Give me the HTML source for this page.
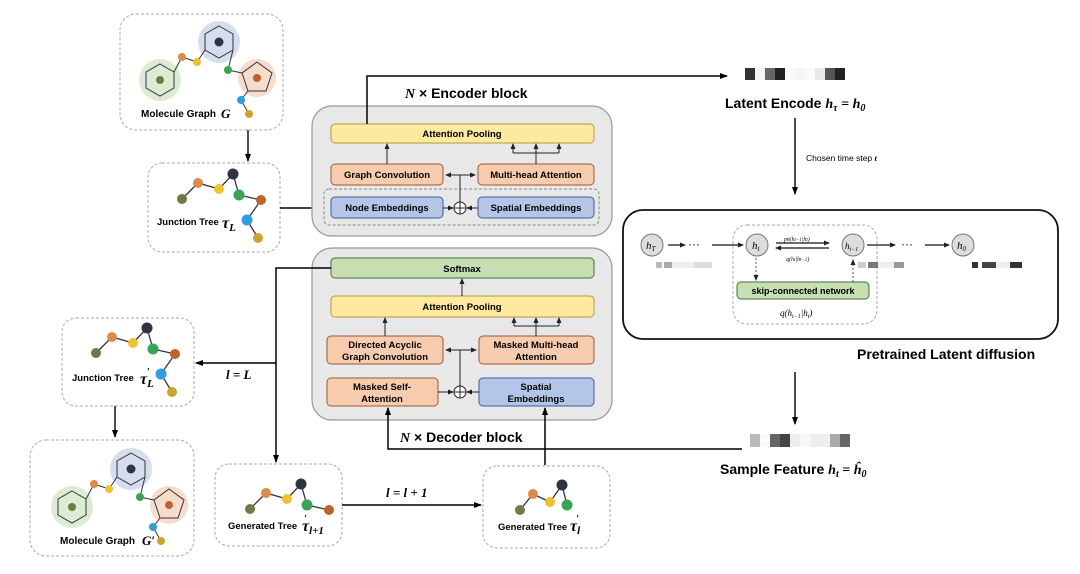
<!DOCTYPE html>
<html><head><meta charset="utf-8"><style>
html,body{margin:0;padding:0;background:#fff;}
svg{display:block;font-family:"Liberation Sans",sans-serif;}
.b{font-weight:bold;}
.it{font-family:"Liberation Serif",serif;font-style:italic;font-weight:bold;}
</style></head><body>
<svg width="1080" height="574" viewBox="0 0 1080 574" xmlns="http://www.w3.org/2000/svg">
<defs>
<marker id="a" markerWidth="8" markerHeight="8" refX="7" refY="4" orient="auto" markerUnits="userSpaceOnUse"><path d="M0,1 L8,4 L0,7 z" fill="#000"/></marker>
<marker id="s" markerWidth="6" markerHeight="6" refX="5" refY="3" orient="auto" markerUnits="userSpaceOnUse"><path d="M0,0.5 L6,3 L0,5.5 z" fill="#222"/></marker>
<marker id="s2" markerWidth="6" markerHeight="6" refX="1" refY="3" orient="auto" markerUnits="userSpaceOnUse"><path d="M6,0.5 L0,3 L6,5.5 z" fill="#222"/></marker>
<g id="tree6">
<path d="M0,0 L16,-16 L37,-10 L51,-25 L57,-4 L79,1" stroke="#333" stroke-width="1.3" fill="none"/>
<circle cx="0" cy="0" r="5" fill="#6b7d45"/><circle cx="16" cy="-16" r="5" fill="#e08a4a"/><circle cx="37" cy="-10" r="5" fill="#f0c232"/><circle cx="51" cy="-25" r="5.5" fill="#2e3440"/><circle cx="57" cy="-4" r="5.5" fill="#3aa356"/><circle cx="79" cy="1" r="5" fill="#c0622e"/>
</g>
<g id="tree8">
<path d="M79,1 L65,21 L76,39" stroke="#333" stroke-width="1.3" fill="none"/>
<use href="#tree6"/>
<circle cx="65" cy="21" r="5.5" fill="#2f9ee0"/><circle cx="76" cy="39" r="5" fill="#c9a532"/>
</g>
<g id="mol">
<circle cx="160" cy="80" r="21" fill="#dcebd3"/><circle cx="219" cy="42" r="21" fill="#d6ddee"/><circle cx="257" cy="78" r="19" fill="#f6dccd"/>
<polygon points="160,64 174,72 174,88 160,96 146,88 146,72" fill="none" stroke="#333" stroke-width="1"/>
<polygon points="219,26 233,34 233,50 219,58 205,50 205,34" fill="none" stroke="#333" stroke-width="1"/>
<polygon points="257,62 272,73 266,91 248,91 242,73" fill="none" stroke="#333" stroke-width="1"/>
<path d="M174,72 L182,57 L197,62 L205,50 M233,50 L228,70 L242,73 M248,91 L241,100 L249,114" stroke="#333" stroke-width="1" fill="none"/>
<circle cx="160" cy="80" r="4" fill="#6b7d45"/><circle cx="219" cy="42" r="4.5" fill="#2e3440"/><circle cx="257" cy="78" r="4" fill="#c0622e"/>
<circle cx="182" cy="57" r="4" fill="#e08a4a"/><circle cx="197" cy="62" r="4" fill="#f0c232"/><circle cx="228" cy="70" r="4" fill="#3aa356"/><circle cx="241" cy="100" r="4" fill="#2f9ee0"/><circle cx="249" cy="114" r="4" fill="#c9a532"/>
</g>
</defs>

<!-- left boxes -->
<rect x="120" y="14" width="163" height="116" rx="16" fill="#fff" stroke="#aaa" stroke-dasharray="3,2"/>
<use href="#mol"/>
<text x="141" y="117" font-size="10" class="b">Molecule Graph</text><text x="221" y="118" font-size="13" class="it">G</text>
<line x1="248" y1="130" x2="248" y2="161" stroke="#000" stroke-width="1.4" marker-end="url(#a)"/>
<rect x="148" y="163" width="132" height="89" rx="14" fill="#fff" stroke="#aaa" stroke-dasharray="3,2"/>
<use href="#tree8" x="182" y="199"/>
<text x="157" y="225" font-size="9.5" class="b">Junction Tree</text><text x="222" y="228" font-size="16" class="it">τ<tspan font-size="11" dy="3">L</tspan></text>
<line x1="280" y1="208" x2="322" y2="208" stroke="#000" stroke-width="1.4" marker-end="url(#a)"/>

<!-- encoder -->
<rect x="312" y="106" width="300" height="130" rx="20" fill="#e8e8e8" stroke="#999" stroke-width="1.2"/>
<rect x="331" y="124" width="263" height="19" rx="4" fill="#fde9a0" stroke="#b8963e"/>
<text x="462" y="137" font-size="9.5" class="b" text-anchor="middle">Attention Pooling</text>
<rect x="331" y="164" width="112" height="21" rx="4" fill="#f7cbad" stroke="#9a5a33"/>
<text x="387" y="178" font-size="9.5" class="b" text-anchor="middle">Graph Convolution</text>
<rect x="478" y="164" width="116" height="21" rx="4" fill="#f7cbad" stroke="#9a5a33"/>
<text x="536" y="178" font-size="9.5" class="b" text-anchor="middle">Multi-head Attention</text>
<rect x="324" y="189" width="275" height="36" rx="5" fill="none" stroke="#888" stroke-dasharray="3,2"/>
<rect x="331" y="197" width="112" height="21" rx="4" fill="#b4c6e7" stroke="#3a5a99"/>
<text x="387" y="211" font-size="9.5" class="b" text-anchor="middle">Node Embeddings</text>
<rect x="478" y="197" width="116" height="21" rx="4" fill="#b4c6e7" stroke="#3a5a99"/>
<text x="536" y="211" font-size="9.5" class="b" text-anchor="middle">Spatial Embeddings</text>
<circle cx="460" cy="208" r="6" fill="#fff" stroke="#222"/><path d="M454,208 H466 M460,202 V214" stroke="#222"/>
<line x1="443" y1="208" x2="453" y2="208" stroke="#222" marker-end="url(#s)"/>
<line x1="478" y1="208" x2="467" y2="208" stroke="#222" marker-end="url(#s)"/>
<line x1="460" y1="202" x2="460" y2="175" stroke="#222"/>
<line x1="446" y1="175" x2="475" y2="175" stroke="#222" marker-start="url(#s2)" marker-end="url(#s)"/>
<line x1="387" y1="164" x2="387" y2="144" stroke="#222" marker-end="url(#s)"/>
<path d="M536,164 V153 M513,153 H559" stroke="#222" fill="none"/>
<line x1="513" y1="153" x2="513" y2="144" stroke="#222" marker-end="url(#s)"/><line x1="536" y1="153" x2="536" y2="144" stroke="#222" marker-end="url(#s)"/><line x1="559" y1="153" x2="559" y2="144" stroke="#222" marker-end="url(#s)"/>
<path d="M367,124 V76 H727" stroke="#000" stroke-width="1.5" fill="none" marker-end="url(#a)"/>
<text x="405" y="98" font-size="14" class="b"><tspan class="it">N</tspan> × Encoder block</text>

<!-- latent -->
<g transform="translate(745,68)">
<rect x="0" width="10" height="12" fill="#333"/><rect x="10" width="10" height="12" fill="#f4f4f4"/><rect x="20" width="10" height="12" fill="#666"/><rect x="30" width="10" height="12" fill="#222"/><rect x="40" width="10" height="12" fill="#fafafa"/><rect x="50" width="10" height="12" fill="#f6f6f6"/><rect x="60" width="10" height="12" fill="#fafafa"/><rect x="70" width="10" height="12" fill="#e8e8e8"/><rect x="80" width="10" height="12" fill="#555"/><rect x="90" width="10" height="12" fill="#222"/>
</g>
<text x="725" y="108" font-size="14" class="b">Latent Encode <tspan class="it">h<tspan font-size="10" dy="3">τ</tspan><tspan dy="-3"> = h</tspan><tspan font-size="10" dy="3">0</tspan></tspan></text>
<line x1="795" y1="118" x2="795" y2="194" stroke="#000" stroke-width="1.4" marker-end="url(#a)"/>
<text x="806" y="161" font-size="8.5">Chosen time step <tspan class="it">t</tspan></text>

<!-- diffusion -->
<rect x="623" y="210" width="435" height="129" rx="20" fill="#fff" stroke="#111" stroke-width="1.8"/>
<rect x="733" y="225" width="144" height="99" rx="14" fill="none" stroke="#aaa" stroke-dasharray="3,2"/>
<g font-family="Liberation Serif,serif" font-style="italic" font-size="11">
<circle cx="652" cy="245" r="11" fill="#ddd" stroke="#777"/><text x="646" y="249">h<tspan font-size="7" dy="2">T</tspan></text>
<circle cx="757" cy="245" r="11" fill="#ddd" stroke="#777"/><text x="752" y="249">h<tspan font-size="7" dy="2">t</tspan></text>
<circle cx="853" cy="245" r="11" fill="#ddd" stroke="#777"/><text x="845" y="249" font-size="9">h<tspan font-size="6" dy="2">t−1</tspan></text>
<circle cx="963" cy="245" r="11" fill="#ddd" stroke="#777"/><text x="957" y="249">h<tspan font-size="7" dy="2">0</tspan></text>
<text x="784" y="241" font-size="6">p<tspan font-size="5">θ</tspan>(h<tspan font-size="5">t−1</tspan>|h<tspan font-size="5">t</tspan>)</text>
<text x="786" y="261" font-size="6">q(h<tspan font-size="5">t</tspan>|h<tspan font-size="5">t−1</tspan>)</text>
<text x="780" y="316" font-size="9">q(h<tspan font-size="6" dy="2">t−1</tspan><tspan dy="-2">|h</tspan><tspan font-size="6" dy="2">t</tspan><tspan dy="-2">)</tspan></text>
</g>
<line x1="668" y1="245" x2="685" y2="245" stroke="#111" stroke-width="1.2" marker-end="url(#s)"/>
<text x="688" y="248" font-size="12">···</text>
<line x1="712" y1="245" x2="743" y2="245" stroke="#111" stroke-width="1.2" marker-end="url(#s)"/>
<line x1="776" y1="243" x2="829" y2="243" stroke="#111" stroke-width="1.2" marker-end="url(#s)"/>
<line x1="829" y1="248" x2="776" y2="248" stroke="#111" stroke-width="1.2" marker-end="url(#s)"/>
<line x1="867" y1="245" x2="895" y2="245" stroke="#111" stroke-width="1.2" marker-end="url(#s)"/>
<text x="901" y="248" font-size="12">···</text>
<line x1="925" y1="245" x2="949" y2="245" stroke="#111" stroke-width="1.2" marker-end="url(#s)"/>
<g>
<rect x="656" y="262" width="6" height="6" fill="#bbb"/><rect x="664" y="262" width="8" height="6" fill="#aaa"/><rect x="672" y="262" width="22" height="6" fill="#eee"/><rect x="694" y="262" width="18" height="6" fill="#ddd"/>
<rect x="858" y="262" width="8" height="6" fill="#ccc"/><rect x="868" y="262" width="10" height="6" fill="#777"/><rect x="878" y="262" width="16" height="6" fill="#eee"/><rect x="894" y="262" width="10" height="6" fill="#999"/>
<rect x="972" y="262" width="6" height="6" fill="#333"/><rect x="982" y="262" width="14" height="6" fill="#444"/><rect x="996" y="262" width="14" height="6" fill="#eee"/><rect x="1010" y="262" width="12" height="6" fill="#333"/>
</g>
<line x1="756" y1="258" x2="756" y2="280" stroke="#555" stroke-dasharray="2,2" marker-end="url(#s)"/>
<line x1="853" y1="282" x2="853" y2="260" stroke="#555" stroke-dasharray="2,2" marker-end="url(#s)"/>
<rect x="737" y="282" width="132" height="17" rx="4" fill="#c6e0b4" stroke="#4a6a3a"/>
<text x="803" y="294" font-size="9" class="b" text-anchor="middle">skip-connected network</text>
<text x="857" y="359" font-size="14" class="b">Pretrained Latent diffusion</text>
<line x1="795" y1="372" x2="795" y2="424" stroke="#000" stroke-width="1.4" marker-end="url(#a)"/>

<!-- sample -->
<g transform="translate(750,434)">
<rect x="0" width="10" height="13" fill="#bbb"/><rect x="10" width="10" height="13" fill="#fafafa"/><rect x="20" width="10" height="13" fill="#666"/><rect x="30" width="10" height="13" fill="#444"/><rect x="40" width="10" height="13" fill="#eee"/><rect x="50" width="10" height="13" fill="#f8f8f8"/><rect x="60" width="10" height="13" fill="#eee"/><rect x="70" width="10" height="13" fill="#eee"/><rect x="80" width="10" height="13" fill="#aaa"/><rect x="90" width="10" height="13" fill="#666"/>
</g>
<text x="720" y="474" font-size="14" class="b">Sample Feature <tspan class="it">h<tspan font-size="10" dy="3">t</tspan><tspan dy="-3"> = ĥ</tspan><tspan font-size="10" dy="3">0</tspan></tspan></text>

<!-- decoder -->
<rect x="312" y="248" width="300" height="172" rx="20" fill="#e8e8e8" stroke="#999" stroke-width="1.2"/>
<rect x="331" y="258" width="263" height="20" rx="4" fill="#c6e0b4" stroke="#4a6a3a"/>
<text x="462" y="272" font-size="9.5" class="b" text-anchor="middle">Softmax</text>
<rect x="331" y="296" width="263" height="21" rx="4" fill="#fde9a0" stroke="#b8963e"/>
<text x="462" y="310" font-size="9.5" class="b" text-anchor="middle">Attention Pooling</text>
<line x1="462" y1="296" x2="462" y2="279" stroke="#222" marker-end="url(#s)"/>
<rect x="327" y="336" width="116" height="28" rx="4" fill="#f7cbad" stroke="#9a5a33"/>
<text x="385" y="348" font-size="9.5" class="b" text-anchor="middle">Directed Acyclic</text><text x="385" y="360" font-size="9.5" class="b" text-anchor="middle">Graph Convolution</text>
<rect x="479" y="336" width="115" height="28" rx="4" fill="#f7cbad" stroke="#9a5a33"/>
<text x="536" y="348" font-size="9.5" class="b" text-anchor="middle">Masked Multi-head</text><text x="536" y="360" font-size="9.5" class="b" text-anchor="middle">Attention</text>
<rect x="327" y="378" width="111" height="28" rx="4" fill="#f7cbad" stroke="#9a5a33"/>
<text x="382" y="390" font-size="9.5" class="b" text-anchor="middle">Masked Self-</text><text x="382" y="402" font-size="9.5" class="b" text-anchor="middle">Attention</text>
<rect x="479" y="378" width="115" height="28" rx="4" fill="#b4c6e7" stroke="#3a5a99"/>
<text x="536" y="390" font-size="9.5" class="b" text-anchor="middle">Spatial</text><text x="536" y="402" font-size="9.5" class="b" text-anchor="middle">Embeddings</text>
<circle cx="460" cy="392" r="6" fill="#fff" stroke="#222"/><path d="M454,392 H466 M460,386 V398" stroke="#222"/>
<line x1="438" y1="392" x2="453" y2="392" stroke="#222" marker-end="url(#s)"/>
<line x1="479" y1="392" x2="467" y2="392" stroke="#222" marker-end="url(#s)"/>
<line x1="460" y1="386" x2="460" y2="350" stroke="#222"/>
<line x1="446" y1="350" x2="476" y2="350" stroke="#222" marker-start="url(#s2)" marker-end="url(#s)"/>
<line x1="385" y1="336" x2="385" y2="318" stroke="#222" marker-end="url(#s)"/>
<path d="M536,336 V326 M514,326 H559" stroke="#222" fill="none"/>
<line x1="514" y1="326" x2="514" y2="318" stroke="#222" marker-end="url(#s)"/><line x1="536" y1="326" x2="536" y2="318" stroke="#222" marker-end="url(#s)"/><line x1="559" y1="326" x2="559" y2="318" stroke="#222" marker-end="url(#s)"/>
<text x="400" y="442" font-size="14" class="b"><tspan class="it">N</tspan> × Decoder block</text>
<path d="M742,449 H388 V408" stroke="#000" stroke-width="1.5" fill="none" marker-end="url(#a)"/>
<path d="M545,465 V408" stroke="#000" stroke-width="1.5" fill="none" marker-end="url(#a)"/>
<path d="M331,268 H276 V462" stroke="#000" stroke-width="1.5" fill="none" marker-end="url(#a)"/>
<line x1="276" y1="363" x2="196" y2="363" stroke="#000" stroke-width="1.5" marker-end="url(#a)"/>
<text x="226" y="379" font-size="13" class="it">l = L</text>

<!-- bottom-left -->
<rect x="62" y="318" width="132" height="88" rx="14" fill="#fff" stroke="#aaa" stroke-dasharray="3,2"/>
<use href="#tree8" x="96" y="353"/>
<text x="72" y="381" font-size="9.5" class="b">Junction Tree</text><text x="140" y="384" font-size="16" class="it">τ<tspan font-size="11" dy="3">L</tspan><tspan font-size="10" dx="-7" dy="-12">′</tspan></text>
<line x1="115" y1="406" x2="115" y2="437" stroke="#000" stroke-width="1.4" marker-end="url(#a)"/>
<rect x="30" y="440" width="164" height="116" rx="16" fill="#fff" stroke="#aaa" stroke-dasharray="3,2"/>
<use href="#mol" x="-88" y="427"/>
<text x="60" y="544" font-size="10" class="b">Molecule Graph</text><text x="142" y="545" font-size="13" class="it">G′</text>

<rect x="215" y="464" width="127" height="82" rx="14" fill="#fff" stroke="#aaa" stroke-dasharray="3,2"/>
<use href="#tree6" x="250" y="509"/>
<text x="228" y="529" font-size="9.5" class="b">Generated Tree</text><text x="302" y="531" font-size="16" class="it">τ<tspan font-size="11" dy="3">l+1</tspan><tspan font-size="10" dx="-20" dy="-12">′</tspan></text>
<line x1="342" y1="505" x2="481" y2="505" stroke="#000" stroke-width="1.5" marker-end="url(#a)"/>
<text x="386" y="497" font-size="13" class="it">l = l + 1</text>
<rect x="483" y="466" width="127" height="82" rx="14" fill="#fff" stroke="#aaa" stroke-dasharray="3,2"/>
<g transform="translate(520,510)">
<path d="M0,0 L13,-16 L30,-8 L42,-25 L47,-5" stroke="#333" stroke-width="1.3" fill="none"/>
<circle cx="0" cy="0" r="5" fill="#6b7d45"/><circle cx="13" cy="-16" r="5" fill="#e08a4a"/><circle cx="30" cy="-8" r="5" fill="#f0c232"/><circle cx="42" cy="-25" r="5.5" fill="#2e3440"/><circle cx="47" cy="-5" r="5.5" fill="#3aa356"/>
</g>
<text x="498" y="530" font-size="9.5" class="b">Generated Tree</text><text x="570" y="531" font-size="16" class="it">τ<tspan font-size="11" dy="3">l</tspan><tspan font-size="10" dx="-4" dy="-12">′</tspan></text>
</svg>
</body></html>
